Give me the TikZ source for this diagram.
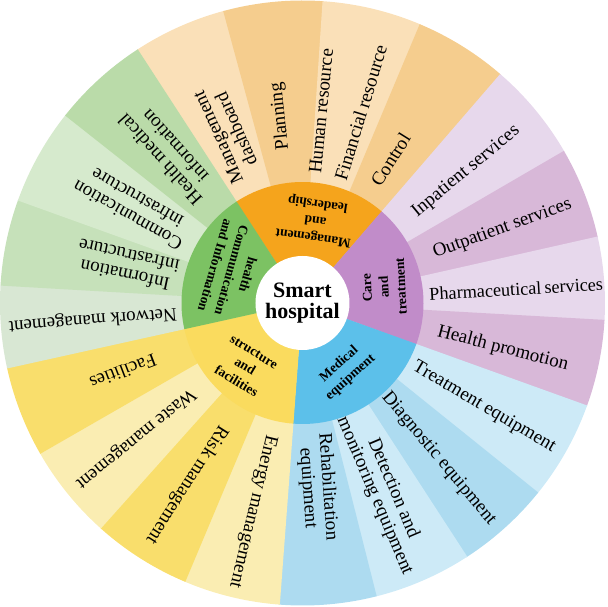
\documentclass[tikz,border=0pt]{standalone}
\usepackage{fontspec}
\setmainfont{Liberation Serif}
\definecolor{mgI}{RGB}{245,164,28}
\definecolor{mgL}{RGB}{250,224,184}
\definecolor{mgD}{RGB}{245,205,142}
\definecolor{cmI}{RGB}{124,194,99}
\definecolor{gA}{RGB}{186,219,169}
\definecolor{gB}{RGB}{214,234,205}
\definecolor{gC}{RGB}{198,225,186}
\definecolor{gD}{RGB}{216,231,211}
\definecolor{caI}{RGB}{193,140,201}
\definecolor{caL}{RGB}{231,216,236}
\definecolor{caD}{RGB}{216,184,216}
\definecolor{meI}{RGB}{92,192,234}
\definecolor{meL}{RGB}{205,234,247}
\definecolor{meD}{RGB}{173,219,240}
\definecolor{stI}{RGB}{250,219,94}
\definecolor{stL}{RGB}{250,237,178}
\definecolor{stD}{RGB}{249,222,108}
\tikzset{
  outlab/.style={font=\fontsize{19}{20}\selectfont, align=center, inner sep=0pt, anchor=west, text=black},
  inlab/.style={font=\bfseries\fontsize{13.5}{17}\selectfont, align=center, inner sep=0pt, text=black},
  hublab/.style={font=\bfseries\fontsize{22}{21}\selectfont, align=center, inner sep=0pt, text=black}
}
\begin{document}
\begin{tikzpicture}[x=1pt,y=1pt]
\useasboundingbox (-302.5,-304) rectangle (305.5,303);
% outer ring (pie slices, inner part covered later)
\foreach \a/\b/\c in {105/123.2/mgL, 86/105.2/mgD, 67/86.2/mgL, 49/67.2/mgD,
  30/49.2/caL, 12.5/30.2/caD, -3.4/12.7/caL, -20/-3.2/caD,
  -39/-19.8/meL, -57.2/-38.8/meD, -76/-57/meL, -94.5/-75.8/meD,
  -113/-94.3/stL, -132/-112.8/stD, -150.3/-131.8/stL, -167.7/-150.1/stD,
  176.5/192.5/gD, 160/176.7/gC, 141.5/160.2/gB, 123/141.7/gA}
  \fill[\c] (0,0) -- (\a:302.5pt) arc[start angle=\a, end angle=\b, radius=302.5pt] -- cycle;
% inner ring
\foreach \a/\b/\c in {49/123.2/mgI, -20/49.2/caI, -94.5/-19.8/meI, -167.7/-94.3/stI, 123/192.5/cmI}
  \fill[\c] (0,0) -- (\a:121pt) arc[start angle=\a, end angle=\b, radius=121pt] -- cycle;
% hub
\fill[white] (0,0) circle[radius=47pt];
\node[hublab] (hub) at (0,0) {Smart\\hospital};
% inner labels
\node[inlab, rotate=172] (imgmt) at (81:84pt) {Management\\and\\leadership};
\node[inlab, rotate=93] (icare) at (11:83pt) {Care\\and\\treatment};
\node[inlab, rotate=42] (imed) at (-58:80pt) {Medical\\equipment};
\node[inlab, rotate=-31] (istr) at (-132:86pt) {structure\\and\\facilities};
\node[inlab, rotate=-106] (icom) at (155:78pt) {health\\Communication\\and Information};
% outer labels (anchored at their inner end)
\node[outlab, rotate=114] (o1) at (114:136pt) {Management\\dashboard};
\node[outlab, rotate=96] (o2) at (97:154pt) {Planning};
\node[outlab, rotate=84.5] (o3) at (84.5:130pt) {Human resource};
\node[outlab, rotate=73] (o4) at (73:129pt) {Financial resource};
\node[outlab, rotate=58] (o5) at (58.5:139pt) {Control};
\node[outlab, rotate=39.5] (o6) at (38.5:143pt) {Inpatient services};
\node[outlab, rotate=20] (o7) at (20.5:140pt) {Outpatient services};
\node[outlab, rotate=3.3, font=\fontsize{18.2}{20}\selectfont] (o8) at (4:127pt) {Pharmaceutical\,services};
\node[outlab, rotate=-14.5] (o9) at (-12:138pt) {Health promotion};
\node[outlab, rotate=-30.5] (o10) at (-29.5:128pt) {Treatment equipment};
\node[outlab, rotate=-50] (o11) at (-48:123pt) {Diagnostic equipment};
\node[outlab, rotate=-67] (o12) at (-66.5:121pt) {Detection and\\monitoring equipment};
\node[outlab, rotate=-86] (o13) at (-85:131pt) {Rehabilitation\\equipment};
\node[outlab, rotate=-103.5] (o14) at (-103.5:136pt) {Energy management};
\node[outlab, rotate=-122.5] (o15) at (-122.5:147pt) {Risk management};
\node[outlab, rotate=-141] (o16) at (-141:141pt) {Waste management};
\node[outlab, rotate=-159] (o17) at (-159:157pt) {Facilities};
\node[outlab, rotate=184.5] (o18) at (184.5:126pt) {Network management};
\node[outlab, rotate=168] (o19) at (168:128pt) {Information\\infrastructure};
\node[outlab, rotate=150.5] (o20) at (150.5:134pt) {Communication\\infrastructure};
\node[outlab, rotate=132] (o21) at (132:144pt) {Health medical\\information};
\end{tikzpicture}
\end{document}
